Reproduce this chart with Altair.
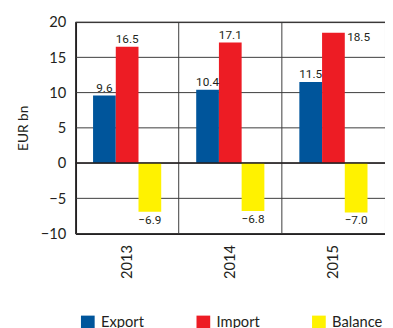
import altair as alt
import pandas as pd

years = ["2013", "2014", "2015"]
series = ["Export", "Import", "Balance"]
export_vals = [9.6, 10.4, 11.5]
import_vals = [16.5, 17.1, 18.5]
balance_vals = [-6.9, -6.8, -7.0]
colors = ["#00559B", "#ED1C24", "#FFF200"]
y_ticks = [-10, -5, 0, 5, 10, 15, 20]

rows = []
for i, yr in enumerate(years):
    for s, vals in zip(series, [export_vals, import_vals, balance_vals]):
        rows.append({"year": yr, "series": s, "value": vals[i]})
df = pd.DataFrame(rows)

W, H = 316, 216
FONT = "Lato"
LBL = "Roboto"
INK = "#231F20"
GRID = "#3A3A3A"

x_axis = alt.Axis(title=None, labelAngle=270, labelFontSize=15, labelPadding=11,
                  domain=True, domainColor=INK, domainWidth=2, ticks=False, grid=False,
                  labelColor=INK, labelFont=FONT)
x_enc = alt.X("year:N", sort=years,
              scale=alt.Scale(paddingInner=0, paddingOuter=0), axis=x_axis)
xo_enc = alt.XOffset("series:N", sort=series,
                     scale=alt.Scale(paddingOuter=0.77, paddingInner=0))
y_axis = alt.Axis(values=y_ticks, title="EUR bn", format="d", labelFontSize=15,
                  labelFont=FONT, labelColor=INK, labelPadding=10, ticks=False,
                  labelOverlap=False,
                  domain=True, domainColor=INK, domainWidth=2, grid=False,
                  titleFont=FONT, titleFontSize=14, titleFontWeight="normal",
                  titleColor=INK, titlePadding=10)
y_enc = alt.Y("value:Q", scale=alt.Scale(domain=[-10, 20], nice=False, zero=False),
              axis=y_axis)

base = alt.Chart(df)

hgrid = alt.Chart(pd.DataFrame({"value": y_ticks})).mark_rule(color=GRID, strokeWidth=1).encode(
    y=y_enc, x=alt.value(0), x2=alt.value(W),
)

vlines = alt.Chart(pd.DataFrame({"year": years})).mark_rule(color=GRID, strokeWidth=1).encode(
    x=alt.X("year:N", sort=years, bandPosition=0, axis=x_axis),
    y=alt.value(0), y2=alt.value(H),
)

bars = base.mark_bar().encode(
    x=x_enc, xOffset=xo_enc, y=y_enc,
    color=alt.Color("series:N", sort=series,
                    scale=alt.Scale(domain=series, range=colors),
                    legend=alt.Legend(orient="none", legendX=5, legendY=299,
                                      direction="horizontal", title=None, columns=3,
                                      symbolType="square", symbolSize=196,
                                      symbolStrokeWidth=0, labelFontSize=15,
                                      labelFont=FONT, labelColor=INK, labelOffset=6,
                                      columnPadding=45, gridAlign="all")),
)

zero = alt.Chart(pd.DataFrame({"value": [0]})).mark_rule(color=INK, strokeWidth=1.5).encode(
    y=y_enc, x=alt.value(0), x2=alt.value(W),
)

pos = base.transform_filter(
    "datum.value >= 0 && !(datum.year == '2015' && datum.series == 'Import')"
).mark_text(baseline="alphabetic", dy=-4, fontSize=12, font=LBL, color=INK).encode(
    x=x_enc, xOffset=xo_enc, y=y_enc,
    text=alt.Text("value:Q", format=".1f"),
)

neg = base.transform_filter("datum.value < 0").mark_text(
    baseline="top", dy=3, fontSize=12, font=LBL, color=INK).encode(
    x=x_enc, xOffset=xo_enc, y=y_enc,
    text=alt.Text("value:Q", format=".1f"),
)

special = base.transform_filter(
    "datum.year == '2015' && datum.series == 'Import'"
).mark_text(baseline="middle", align="left", dx=14, dy=5, fontSize=12, font=LBL, color=INK).encode(
    x=x_enc, xOffset=xo_enc, y=y_enc,
    text=alt.Text("value:Q", format=".1f"),
)

chart = alt.layer(hgrid, vlines, bars, zero, pos, neg, special).properties(
    width=W, height=H,
    autosize=alt.AutoSizeParams(type="none"),
    padding={"left": 69, "top": 11, "right": 0, "bottom": 93},
).configure_view(stroke=INK, strokeWidth=1)

chart.save("out.html", embed_options={"renderer": "svg", "actions": False})
